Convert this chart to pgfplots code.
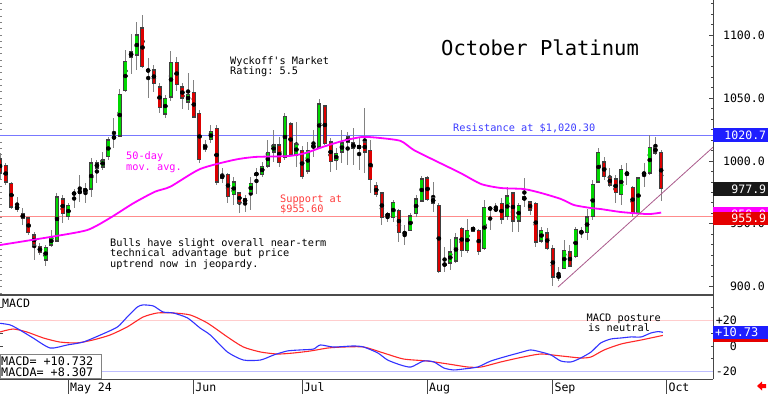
\documentclass[border=0pt]{standalone}
\usepackage{fontspec}
\setmonofont{DejaVu Sans Mono}
\renewcommand{\familydefault}{\ttdefault}
\usepackage{pgfplots}
\usepackage{pgfplotstable}
\pgfplotsset{compat=1.18}

\definecolor{cgreen}{RGB}{0,215,0}
\definecolor{cred}{RGB}{220,0,0}
\definecolor{cwick}{RGB}{130,130,130}
\definecolor{cma}{RGB}{255,0,255}
\definecolor{cres}{RGB}{120,120,255}
\definecolor{csup}{RGB}{255,140,140}
\definecolor{ctrend}{RGB}{170,90,140}
\definecolor{cmacd}{RGB}{50,50,255}
\definecolor{csig}{RGB}{255,40,40}
\definecolor{cbluebox}{RGB}{30,30,255}
\definecolor{cpinkline}{RGB}{255,205,205}
\definecolor{clbline}{RGB}{190,190,255}
\definecolor{crestext}{RGB}{60,60,255}
\definecolor{csuptext}{RGB}{255,60,60}
\definecolor{caxis}{RGB}{70,70,70}

\pgfplotstableread{
i o h l c
3 961.7 971.3 959.3 964.1
8 921.2 933.1 916.4 931.5
9 933.1 945.0 931.5 939.5
10 936.3 974.5 935.5 971.3
12 955.4 966.5 953.0 964.9
14 974.5 988.7 967.3 976.0
16 977.6 1002.3 971.3 998.3
18 995.1 1007.0 992.7 1000.7
19 1003.1 1019.0 1000.7 1016.6
20 1017.4 1034.0 1010.2 1019.7
21 1019.7 1057.1 1019.0 1053.1
22 1055.5 1088.1 1054.7 1079.3
24 1084.1 1110.3 1072.2 1100.0
26 1071.4 1081.7 1049.9 1072.2
29 1037.2 1052.3 1034.0 1049.9
30 1050.7 1087.3 1047.5 1078.5
33 1046.7 1069.8 1040.4 1053.1
36 1009.4 1016.6 1007.0 1012.6
37 1016.6 1028.5 1014.2 1023.7
39 985.6 994.3 982.4 989.5
41 972.9 987.2 964.9 983.2
43 967.3 972.9 959.3 969.7
44 974.5 987.2 960.9 982.4
45 988.7 994.3 973.7 990.3
46 989.5 999.1 987.2 995.9
47 995.9 1016.6 994.3 1007.0
48 1007.0 1024.5 999.1 1012.6
50 1002.3 1038.0 1000.7 1035.6
52 1004.6 1030.9 995.1 1013.4
54 991.9 1015.0 989.5 1008.6
55 1011.0 1024.5 1003.1 1011.8
56 1011.0 1049.1 1010.2 1045.2
59 999.9 1010.2 992.7 1006.2
60 1007.0 1024.5 998.3 1014.2
61 1014.2 1022.9 996.7 1019.0
63 1010.2 1018.1 992.7 1011.8
69 954.6 968.9 951.4 967.3
71 941.9 949.0 933.1 943.4
72 945.0 958.5 944.2 956.2
73 958.5 972.9 955.4 969.7
74 968.1 987.9 967.3 985.6
78 917.2 931.5 911.7 918.0
79 918.8 937.9 913.3 927.6
80 920.4 942.7 918.8 938.7
82 929.1 953.8 926.8 945.0
85 930.7 968.9 929.1 963.3
87 960.9 966.5 959.3 961.7
89 955.4 979.2 953.0 972.1
91 952.2 966.5 943.4 964.9
92 968.9 986.4 963.3 971.3
95 936.3 947.4 934.7 945.0
99 914.8 937.1 914.0 929.1
101 923.6 947.4 922.8 945.8
103 943.4 961.7 937.1 955.4
104 955.4 984.8 953.0 981.6
105 983.2 1010.2 982.4 1007.0
109 972.9 996.7 964.9 993.5
110 989.5 998.3 980.8 990.3
112 958.5 987.2 957.0 986.4
113 989.5 998.3 979.2 990.3
114 990.3 1020.5 988.7 1011.0
}\upcandles

\pgfplotstableread{
i o h l c
0 1001.5 1006.2 984.8 990.3
1 996.7 998.3 980.8 983.2
2 982.4 983.2 961.7 963.3
4 958.5 962.5 949.0 953.8
5 954.6 955.4 941.1 942.7
6 941.1 943.4 921.2 933.1
7 932.3 934.7 925.2 926.8
11 969.7 972.9 950.6 958.5
13 975.2 977.6 962.5 972.9
15 978.4 982.4 966.5 974.5
17 998.3 1000.7 982.4 994.3
23 1086.5 1100.8 1069.0 1082.5
25 1105.6 1115.9 1073.8 1074.6
27 1072.2 1076.2 1054.7 1061.8
28 1058.7 1061.8 1038.0 1042.0
31 1078.5 1082.5 1055.5 1060.3
32 1058.7 1061.8 1041.2 1049.9
34 1054.7 1064.2 1034.0 1034.8
35 1038.0 1040.4 998.3 1000.7
38 1026.1 1028.5 980.8 983.2
40 989.5 990.3 966.5 971.3
42 974.5 975.2 958.5 966.5
49 1012.6 1019.0 995.1 998.3
51 1029.3 1030.9 1003.8 1004.6
53 1008.6 1011.8 985.6 987.2
57 1043.6 1044.4 1012.6 1013.4
58 1015.0 1018.1 991.1 999.1
62 1014.2 1026.1 996.7 1010.2
64 1015.0 1042.0 990.3 1007.0
65 1008.6 1016.6 974.5 984.8
66 980.8 983.2 971.3 972.9
67 974.5 975.2 949.0 954.6
68 958.5 959.3 951.4 955.4
70 960.9 961.7 935.5 943.4
75 986.4 987.9 968.1 968.9
76 970.5 983.2 959.3 966.5
77 964.9 966.5 910.9 911.7
81 946.6 947.4 923.6 928.4
83 947.4 948.2 943.4 944.2
84 945.0 945.8 925.2 927.6
86 962.5 963.3 945.0 961.7
88 966.5 970.5 949.8 953.8
90 974.5 975.2 943.4 952.2
93 967.3 968.1 957.0 960.9
94 966.5 967.3 931.5 935.5
96 942.7 946.6 929.1 930.7
97 930.7 933.1 900.5 907.7
98 908.5 915.6 904.5 907.7
100 927.6 933.1 915.6 916.4
102 944.2 947.4 938.7 942.7
106 999.1 1003.1 984.8 987.2
107 987.2 994.3 979.2 980.8
108 985.6 988.7 966.5 974.5
111 979.2 980.0 955.4 959.3
115 1011.0 1019.0 1004.6 1006.2
116 1007.0 1008.6 968.1 977.9
}\downcandles

\pgfplotsset{
  wickplot/.style={only marks, mark=none,
    error bars/.cd, y dir=both, y explicit, error mark=none,
    error bar style={draw=cwick, line width=1bp}},
  bodyedge/.style={only marks, mark=none,
    error bars/.cd, y dir=both, y explicit, error mark=none,
    error bar style={draw=black!75, line width=4bp}},
  bodyfill/.style={only marks, mark=none,
    error bars/.cd, y dir=both, y explicit, error mark=none,
    error bar style={draw=#1, line width=2.6bp}},
}

\newcommand{\lab}{\fontsize{11.6}{12}\selectfont}
\newcommand{\ann}{\fontsize{10.3}{11}\selectfont}

\begin{document}
\begin{tikzpicture}[x=1bp,y=1bp]
\path[use as bounding box, fill=white] (0,0) rectangle (768,394);

% left tiny ticks of price panel
\begin{axis}[at={(0bp,99bp)}, anchor=south west, scale only axis,
  width=713bp, height=295bp,
  xmin=0, xmax=125.1, ymin=893.4, ymax=1127.8,
  axis line style={draw=none}, xtick=\empty,
  ytick={895,900,...,1125}, yticklabels={}, ytick pos=left,
  tick align=inside, major tick length=1.5bp,
  every tick/.style={cwick, line width=0.8bp}]
\addplot[draw=none] coordinates {(0,900)};
\end{axis}

% price panel
\begin{axis}[at={(0bp,99bp)}, anchor=south west, scale only axis,
  width=713bp, height=295bp,
  xmin=0, xmax=125.1, ymin=893.4, ymax=1127.8,
  axis line style={draw=none}, xtick=\empty,
  ytick={850,900,...,1150}, minor y tick num=5,
  ytick pos=right, yticklabel pos=right,
  tick align=inside, major tick length=4bp, minor tick length=2.5bp,
  every tick/.style={caxis, line width=0.6bp},
  yticklabel={\pgfmathprintnumber[fixed,fixed zerofill,precision=1,1000 sep={},assume math mode=true]{\tick}},
  yticklabel style={anchor=east, xshift=52bp, inner sep=0pt, font=\lab},
  clip mode=individual]

\addplot[cres, line width=1.5bp] coordinates {(0,1020.3) (125.1,1020.3)};
\addplot[csup, line width=1.5bp] coordinates {(0,955.6) (125.1,955.6)};

\addplot[wickplot] table[x=i, y expr={(\thisrow{h}+\thisrow{l})/2}, y error expr={(\thisrow{h}-\thisrow{l})/2}] {\upcandles};
\addplot[wickplot] table[x=i, y expr={(\thisrow{h}+\thisrow{l})/2}, y error expr={(\thisrow{h}-\thisrow{l})/2}] {\downcandles};

\addplot[bodyedge] table[x=i, y expr={(\thisrow{o}+\thisrow{c})/2}, y error expr={abs(\thisrow{o}-\thisrow{c})/2+0.4}] {\upcandles};
\addplot[bodyedge] table[x=i, y expr={(\thisrow{o}+\thisrow{c})/2}, y error expr={abs(\thisrow{o}-\thisrow{c})/2+0.4}] {\downcandles};
\addplot[bodyfill=cgreen] table[x=i, y expr={(\thisrow{o}+\thisrow{c})/2}, y error expr={max(abs(\thisrow{o}-\thisrow{c})/2-0.45,0.7)}] {\upcandles};
\addplot[bodyfill=cred] table[x=i, y expr={(\thisrow{o}+\thisrow{c})/2}, y error expr={max(abs(\thisrow{o}-\thisrow{c})/2-0.45,0.7)}] {\downcandles};

% 50-day moving average
\addplot[cma, line width=1.8bp, smooth, tension=0.4] coordinates {
(0,933.1)(8.8,939.5)(15.3,945.0)(19.3,954.6)(23.4,966.3)(27.2,975.5)(29.9,979.5)
(35.1,993.5)(41,1000.7)(44.8,1003.1)(50.6,1003.8)(53.6,1006.2)(56.6,1011.0)
(60.1,1015.8)(63.6,1019.0)(66.8,1018.1)(70.3,1015.8)(72.6,1008.6)(76.1,1000.7)
(80.8,990.3)(84.4,981.6)(87.9,978.4)(91.9,977.6)(94.9,974.5)(98.4,969.7)
(100.7,964.9)(103.7,962.5)(105.4,961.7)(109,959.3)(113.7,957.7)(116,958.9)};

% trend line
\addplot[ctrend, line width=0.8bp] coordinates {(97.9,899.7) (125.1,1010.8)};

\draw[caxis, line width=1bp] (rel axis cs:1,0) -- (rel axis cs:1,1);
\draw[black!70, line width=1.6bp] (rel axis cs:0,0) -- (rel axis cs:1,0);
\end{axis}

% MACD panel
\begin{axis}[at={(0bp,15bp)}, anchor=south west, scale only axis,
  width=713bp, height=84bp,
  xmin=0, xmax=125.1, ymin=-25.9, ymax=40,
  axis line style={draw=none},
  xtick={12,34,53,75,97,117}, xticklabels={May 24,Jun,Jul,Aug,Sep,Oct},
  xtick pos=bottom, major x tick style={draw=none},
  xticklabel style={anchor=base west, yshift=-12bp, inner xsep=1.5bp, inner ysep=0pt, font=\lab},
  ytick={-20,-10,0,10,20,30}, yticklabels={-20,{},0,{},+20,{}},
  ytick pos=both, yticklabel pos=right,
  tick align=inside, major tick length=2.5bp,
  every tick/.style={caxis, line width=0.6bp},
  yticklabel style={anchor=east, xshift=24bp, inner sep=0pt, font=\lab},
  clip mode=individual]

\addplot[cpinkline, line width=1.5bp] coordinates {(0,20) (125.1,20)};
\addplot[clbline, line width=1bp] coordinates {(0,-20) (125.1,-20)};

\addplot[csig, line width=1.1bp, smooth, tension=0.4] coordinates {
(0,11.0)(2.3,13.3)(4.7,11.0)(7.6,6.3)(10.5,3.1)(13.5,2.4)(16.3,4.7)(19.3,8.6)
(22.3,14.9)(25.1,22.7)(27.6,25.9)(30.4,25.9)(33.4,24.3)(36.4,18.0)(39.9,7.1)
(42.7,-0.8)(45.7,-4.7)(48.7,-6.3)(51.5,-5.5)(54.5,-3.9)(57.5,-1.6)(60.3,-0.8)
(63.8,-0.8)(67.3,-5.5)(70.8,-10.2)(75,-11.8)(78.6,-14.1)(82.1,-16.5)(84.4,-16.5)
(87.9,-12.5)(91.4,-9.0)(94.9,-6.3)(98.4,-7.8)(101.9,-9.4)(103.7,-8.6)(106,-3.1)
(109,1.6)(112.5,4.7)(116.3,8.3)};

\addplot[cmacd, line width=1.1bp, smooth, tension=0.4] coordinates {
(0,17.8)(1.8,16.5)(3.5,12.5)(5.8,6.3)(8.8,-1.6)(11.8,0.8)(14.6,3.1)(17.6,8.6)
(20.6,14.9)(22.3,22.7)(24.1,30.6)(25.1,32.2)(26.9,31.4)(28.6,26.7)(30.4,25.9)
(32.9,22.0)(35.1,14.1)(36.9,8.6)(39.9,-4.7)(42.7,-11.0)(45.7,-11.0)(48,-7.1)
(50.4,-3.9)(52.7,-3.1)(55,-2.4)(56.2,0.8)(58.5,-0.8)(62,0)(63.8,-0.8)(66.3,-5.5)
(68,-11.0)(70.3,-14.9)(72.1,-16.5)(74.3,-11.8)(76.1,-12.5)(77.9,-17.3)(79.6,-18.8)
(81.4,-18.0)(83.8,-16.5)(86.1,-11.8)(89.1,-7.8)(91.4,-5.0)(93.1,-3.1)(94.9,-4.7)
(96.7,-7.1)(98.4,-11.8)(100.2,-12.5)(101.9,-9.4)(103.7,-4.7)(105.4,2.4)(107.2,5.5)
(109,6.3)(110.7,7.1)(112.5,7.1)(114.2,10.2)(115.5,11.3)(116.3,10.73)};

\draw[caxis, line width=1bp] (rel axis cs:1,0) -- (rel axis cs:1,1);
\draw[caxis, line width=1bp] (rel axis cs:0,0) -- (rel axis cs:1,0);
\pgfplotsinvokeforeach{12,34,53,75,97,117}{
  \draw[caxis, line width=0.8bp] (axis cs:#1,-25.9) -- ++(0bp,-15bp);
}
\end{axis}

% annotations in the price panel
\node[anchor=base west, inner sep=0pt, font=\fontsize{20.6}{22}\selectfont] at (441,339) {October Platinum};
\node[anchor=base west, inner sep=0pt, font=\ann] at (230,329.8) {Wyckoff's Market};
\node[anchor=base west, inner sep=0pt, font=\ann] at (230,319.8) {Rating: 5.5};
\node[anchor=base west, inner sep=0pt, font=\ann, text=crestext] at (453,262.5) {Resistance at \$1,020.30};
\node[anchor=base west, inner sep=0pt, font=\ann, text=cma] at (126,234.5) {50-day};
\node[anchor=base west, inner sep=0pt, font=\ann, text=cma] at (126,223.5) {mov. avg.};
\node[anchor=base west, inner sep=0pt, font=\ann, text=csuptext] at (280,191.5) {Support at};
\node[anchor=base west, inner sep=0pt, font=\ann, text=csuptext] at (280,181.5) {\$955.60};
\node[anchor=base west, inner sep=0pt, font=\ann] at (110,148) {Bulls have slight overall near-term};
\node[anchor=base west, inner sep=0pt, font=\ann] at (110,137.2) {technical advantage but price};
\node[anchor=base west, inner sep=0pt, font=\ann] at (110,126.5) {uptrend now in jeopardy.};

% value boxes on the price scale
\tikzset{valbox/.style={anchor=west, inner xsep=2bp, inner ysep=0pt, minimum height=13.5bp,
  text width=51bp, align=right, text=white, font=\lab}}
\node[valbox, fill=cbluebox] at (713,259) {1020.7};
\node[valbox, fill=black!90] at (713,205) {977.9};
\node[valbox, fill=cma] at (713,180) {958.9};
\node[valbox, fill=red!90!black] at (713,175.5) {955.9};

% MACD annotations
\node[anchor=base west, inner sep=0pt, font=\lab] at (2,87) {MACD};
\node[anchor=base west, inner sep=0pt, font=\ann] at (586.5,72.3) {MACD posture};
\node[anchor=base west, inner sep=0pt, font=\ann] at (588,62.3) {is neutral};
\draw[cwick, fill=white, line width=0.8bp] (0,16) rectangle (101,40);
\node[anchor=base west, inner sep=0pt, font=\fontsize{11.8}{12}\selectfont] at (1,29) {MACD= +10.732};
\node[anchor=base west, inner sep=0pt, font=\fontsize{11.8}{12}\selectfont] at (1,18) {MACDA= +8.307};
\node[anchor=west, inner xsep=2bp, inner ysep=0pt, minimum height=12.5bp, text width=51bp,
  align=left, text=white, font=\fontsize{12}{12}\selectfont, fill=red!90!black] at (713,58) {};
\node[anchor=west, inner xsep=2bp, inner ysep=0pt, minimum height=12.5bp, text width=51bp,
  align=left, text=white, font=\fontsize{12}{12}\selectfont, fill=cbluebox] at (713,61.5) {+10.73};

% small red arrow bottom right
\fill[red] (757,8) -- (762,12.5) -- (762,10) -- (766,10) -- (766,6) -- (762,6) -- (762,3.5) -- cycle;
\end{tikzpicture}
\end{document}
